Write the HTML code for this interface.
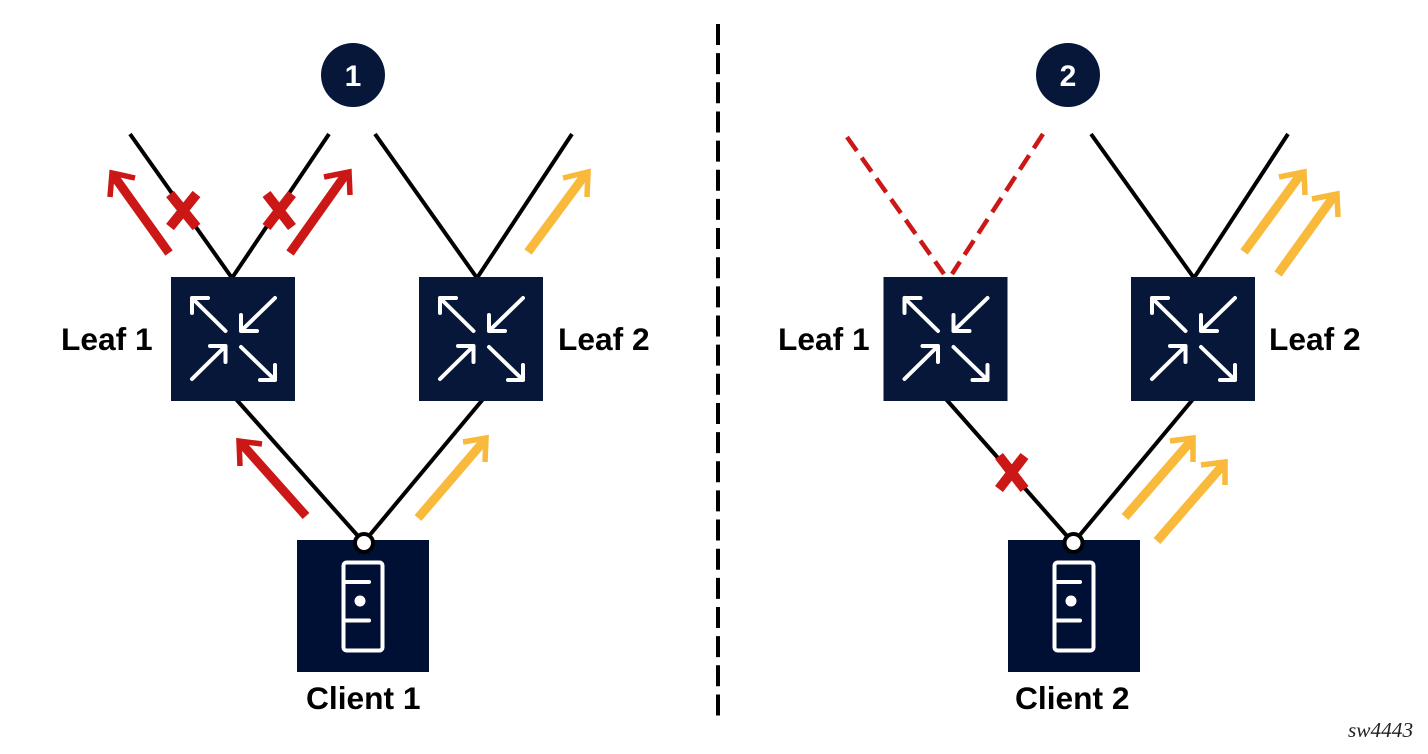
<!DOCTYPE html>
<html>
<head>
<meta charset="utf-8">
<style>
html,body{margin:0;padding:0;background:#fff;width:1428px;height:754px;overflow:hidden}
svg{display:block}
text{font-family:"Liberation Sans",sans-serif;font-weight:bold;font-size:31.700px;fill:#000}
.k{stroke:#000;stroke-width:4;fill:none}
.rd{stroke:#cc1717;stroke-width:4.500;fill:none;stroke-dasharray:17 8.400}
.rs{stroke:#cc1717;stroke-width:9;fill:none}
.rh{stroke:#cc1717;stroke-width:5.500;fill:none}
.ys{stroke:#f9b93a;stroke-width:9;fill:none}
.yh{stroke:#f9b93a;stroke-width:5.500;fill:none}
.x{stroke:#cc1717;stroke-width:10;fill:none}
.ic{stroke:#fff;stroke-width:4;fill:none;stroke-linecap:round;stroke-linejoin:round}
.cl{stroke:#fff;stroke-width:4;fill:none;stroke-linecap:round;stroke-linejoin:round}
</style>
</head>
<body>
<svg width="1428" height="754" viewBox="0 0 1428 754" xmlns="http://www.w3.org/2000/svg">
<defs>
<g id="leaf">
  <rect x="0" y="0" width="124" height="124" fill="#06173a"/>
  <path class="ic" d="M54.500 54 L21 21 M37 21 H21 V36"/>
  <path class="ic" d="M104 21 L70 54 M70 38 V54 H86"/>
  <path class="ic" d="M21 102 L54.500 69 M39 69 H54.500 V85"/>
  <path class="ic" d="M70 70 L104 103 M104 88 V103 H89"/>
</g>
<g id="client">
  <rect x="0" y="0" width="132" height="132" fill="#001035"/>
  <rect class="cl" x="46.500" y="22.500" width="39" height="88" rx="3"/>
  <path class="cl" d="M47 42 H72 M47 80.500 H72"/>
  <circle cx="63" cy="61" r="5.500" fill="#fff"/>
</g>
</defs>

<!-- divider -->
<line x1="718" y1="24" x2="718" y2="716" stroke="#000" stroke-width="4" stroke-dasharray="21 8.150"/>

<!-- number circles -->
<circle cx="353" cy="75" r="32" fill="#06173a"/>
<text x="353" y="86" text-anchor="middle" style="fill:#fff;font-size:30px">1</text>
<circle cx="1068" cy="75" r="32" fill="#06173a"/>
<text x="1068" y="86" text-anchor="middle" style="fill:#fff;font-size:30px">2</text>

<!-- panel 1 lines -->
<path class="k" d="M130 134 L232 278 L329 134"/>
<path class="k" d="M375 134 L477 278 L572 134"/>
<path class="k" d="M235 398 L358 536"/>
<path class="k" d="M484 398 L369 536"/>

<!-- panel 2 lines -->
<path class="rd" d="M847 137 L944 274"/>
<path class="rd" d="M1043 134 L952 274"/>
<path class="k" d="M1091 134 L1194 278 L1288 134"/>
<path class="k" d="M945 398 L1067 536"/>
<path class="k" d="M1194 398 L1079 536"/>

<!-- boxes -->
<use href="#leaf" x="171" y="277"/>
<use href="#leaf" x="419" y="277"/>
<use href="#leaf" x="883.500" y="277"/>
<use href="#leaf" x="1131" y="277"/>
<use href="#client" x="297" y="540"/>
<use href="#client" x="1008" y="540"/>

<circle cx="364" cy="543" r="9" fill="#fff" stroke="#000" stroke-width="4"/>
<circle cx="1073.500" cy="543" r="9" fill="#fff" stroke="#000" stroke-width="4"/>

<!-- red arrows -->
<path class="rs" d="M169 253 L114 176"/>
<path class="rh" d="M135 178 L112 173 L110 197"/>
<path class="rs" d="M290 253 L346 174"/>
<path class="rh" d="M324 177 L349 172 L350 195"/>
<path class="rs" d="M306 516 L241 443"/>
<path class="rh" d="M262 444 L239 441 L240 466"/>

<!-- red X -->
<path class="x" d="M170 194 L196.500 227 M196.500 194 L170 227"/>
<path class="x" d="M266.500 194 L292 227 M292 194 L266.500 227"/>
<path class="x" d="M999 456 L1024.500 489 M1024.500 456 L999 489"/>

<!-- yellow arrows -->
<path class="ys" d="M528 252 L585 175"/>
<path class="yh" d="M563 178 L588 172 L587 197"/>
<path class="ys" d="M418 518 L484 441"/>
<path class="yh" d="M463 442 L486 438 L485 462"/>

<path class="ys" d="M1244 252 L1301 174"/>
<path class="yh" d="M1279 177 L1304 172 L1305 195"/>
<path class="ys" d="M1278 274 L1334 196"/>
<path class="yh" d="M1312 199 L1337 194 L1338 217"/>

<path class="ys" d="M1125 517 L1191 441"/>
<path class="yh" d="M1170 441 L1193 438 L1193 462"/>
<path class="ys" d="M1157 541 L1223 465"/>
<path class="yh" d="M1201 465 L1225 462 L1225 485"/>

<!-- labels -->
<text x="61" y="350">Leaf 1</text>
<text x="558" y="350">Leaf 2</text>
<text x="778" y="350">Leaf 1</text>
<text x="1269" y="350">Leaf 2</text>
<text x="306" y="709">Client 1</text>
<text x="1015" y="709">Client 2</text>
<text x="1348" y="737" style="font-family:'Liberation Serif',serif;font-style:italic;font-weight:normal;font-size:21.300px;fill:#222">sw4443</text>
</svg>
</body>
</html>
